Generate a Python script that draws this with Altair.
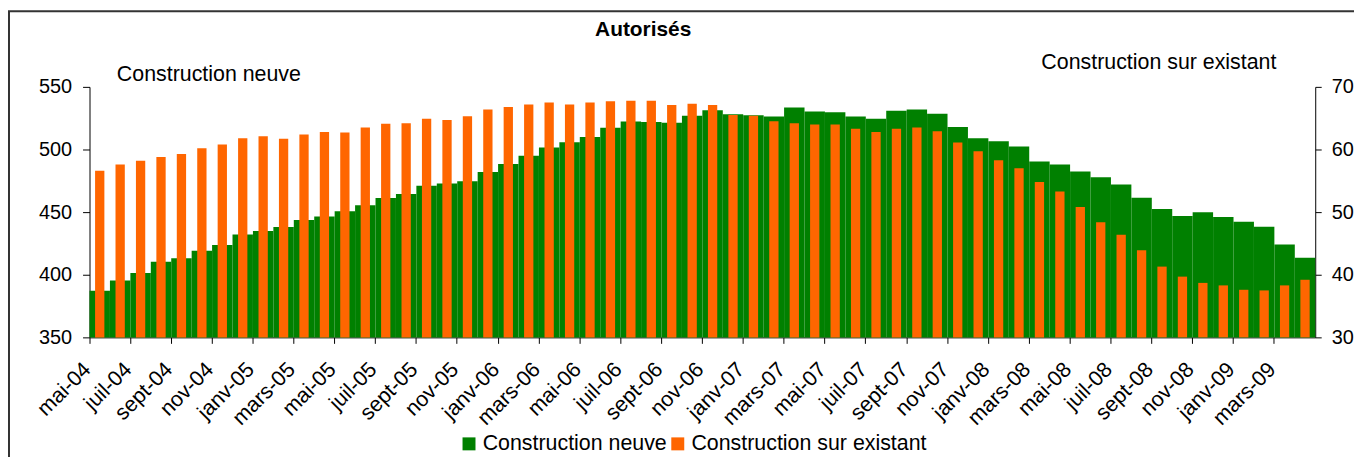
import altair as alt
import pandas as pd

months = [
    "mai-04", "juin-04", "juil-04", "août-04", "sept-04", "oct-04", "nov-04", "déc-04",
    "janv-05", "févr-05", "mars-05", "avr-05", "mai-05", "juin-05", "juil-05", "août-05",
    "sept-05", "oct-05", "nov-05", "déc-05",
    "janv-06", "févr-06", "mars-06", "avr-06", "mai-06", "juin-06", "juil-06", "août-06",
    "sept-06", "oct-06", "nov-06", "déc-06",
    "janv-07", "févr-07", "mars-07", "avr-07", "mai-07", "juin-07", "juil-07", "août-07",
    "sept-07", "oct-07", "nov-07", "déc-07",
    "janv-08", "févr-08", "mars-08", "avr-08", "mai-08", "juin-08", "juil-08", "août-08",
    "sept-08", "oct-08", "nov-08", "déc-08",
    "janv-09", "févr-09", "mars-09", "avr-09",
]

neuve = [
    387.3, 395.5, 401.3, 410.3, 413.2, 419.1, 423.8, 432.1, 435.0, 438.2,
    443.7, 446.6, 450.6, 455.4, 461.2, 464.4, 471.0, 472.9, 474.7, 482.1,
    488.5, 495.1, 501.5, 505.7, 510.0, 517.4, 522.4, 521.9, 521.4, 526.9,
    531.4, 528.2, 527.4, 526.4, 533.5, 530.4, 529.8, 526.4, 524.5, 530.9,
    532.0, 528.5, 517.9, 508.9, 506.5, 502.3, 490.4, 488.0, 482.4, 477.9,
    472.1, 461.5, 452.5, 446.9, 449.8, 446.1, 442.4, 438.4, 424.1, 413.5,
]

existant = [
    56.6, 57.6, 58.2, 58.8, 59.3, 60.2, 60.8, 61.8, 62.1, 61.7,
    62.4, 62.8, 62.7, 63.5, 64.1, 64.2, 64.9, 64.7, 65.3, 66.4,
    66.8, 67.2, 67.5, 67.2, 67.5, 67.7, 67.8, 67.8, 67.1, 67.3,
    67.1, 65.5, 65.4, 64.5, 64.2, 64.0, 64.0, 63.3, 62.8, 63.3,
    63.5, 62.9, 61.1, 59.7, 58.3, 57.0, 54.8, 53.3, 50.8, 48.4,
    46.4, 43.9, 41.3, 39.7, 38.7, 38.3, 37.6, 37.5, 38.3, 39.2,
]

series_names = ["Construction neuve", "Construction sur existant"]
series_colors = ["#008000", "#FF6600"]
left_ticks = [350, 400, 450, 500, 550]
right_ticks = [30, 40, 50, 60, 70]
chart_title = "Autorisés"

FONT = "Liberation Sans"
TXT = 21.5

df = pd.DataFrame({"mois": months, "neuve": neuve, "existant": existant})

color_scale = alt.Scale(domain=series_names, range=series_colors)
legend = alt.Legend(
    orient="none", legendX=371, legendY=348, direction="horizontal", title=None,
    symbolType="square", symbolSize=170, symbolStrokeWidth=0,
    labelFontSize=TXT, labelFont=FONT, labelColor="black", columnPadding=0,
    labelOffset=3, labelLimit=0,
)

x_enc = alt.X(
    "mois:N", sort=months,
    scale=alt.Scale(paddingInner=0, paddingOuter=0),
    axis=alt.Axis(
        values=months[::2], bandPosition=0, labelAngle=315, labelAlign="right",
        labelBaseline="middle", labelFontSize=TXT, labelFont=FONT, labelColor="black",
        tickSize=6, tickColor="black", domainColor="black", labelPadding=23,
        labelOffset=-12, labelOverlap=False, title=None, grid=False,
    ),
)

base = alt.Chart(df)

green = base.transform_calculate(serie="'Construction neuve'").mark_bar().encode(
    x=x_enc,
    y=alt.Y(
        "neuve:Q",
        scale=alt.Scale(domain=[350, 550], nice=False, zero=False),
        axis=alt.Axis(
            orient="left", values=left_ticks, tickSize=7, labelPadding=11,
            labelFontSize=20, labelFont=FONT, labelColor="black",
            tickColor="black", domainColor="black", grid=False,
            title="Construction neuve", titleAngle=0, titleAlign="left",
            titleBaseline="alphabetic", titleX=27, titleY=-6,
            titleFontSize=TXT, titleFont=FONT, titleFontWeight="normal",
            titleColor="black",
        ),
    ),
    y2=alt.datum(350),
    color=alt.Color("serie:N", scale=color_scale, legend=legend),
)

orange = base.transform_calculate(serie="'Construction sur existant'").mark_bar(
    width={"band": 0.455}
).encode(
    x=x_enc,
    y=alt.Y(
        "existant:Q",
        scale=alt.Scale(domain=[30, 70], nice=False, zero=False),
        axis=alt.Axis(
            orient="right", values=right_ticks, tickSize=6, labelPadding=10,
            labelFontSize=20, labelFont=FONT, labelColor="black",
            tickColor="black", domainColor="black", grid=False,
            title="Construction sur existant", titleAngle=0, titleAlign="left",
            titleBaseline="alphabetic", titleX=-276, titleY=-18,
            titleFontSize=TXT, titleFont=FONT, titleFontWeight="normal",
            titleColor="black",
        ),
    ),
    y2=alt.datum(30),
    color=alt.Color("serie:N", scale=color_scale, legend=legend),
)

frame = alt.Chart(pd.DataFrame({"k": [0]})).mark_rect(
    fillOpacity=0, stroke="#333333", strokeWidth=2
).encode(
    x=alt.value(-81), x2=alt.value(1400), y=alt.value(-76), y2=alt.value(600)
)

title = alt.Chart(pd.DataFrame({"t": [chart_title]})).mark_text(
    align="center", baseline="alphabetic", fontSize=21, fontWeight="bold",
    font=FONT, color="black"
).encode(
    text="t:N", x=alt.value(557), y=alt.value(-51)
)

chart = alt.layer(green, orange, frame, title).resolve_scale(
    y="independent"
).properties(
    width=1233, height=252,
    padding={"left": 82, "top": 78, "right": 39, "bottom": 119},
    autosize=alt.AutoSizeParams(type="none"),
).configure_view(stroke=None)

chart.save("out.html", embed_options={"renderer": "svg", "actions": False})
